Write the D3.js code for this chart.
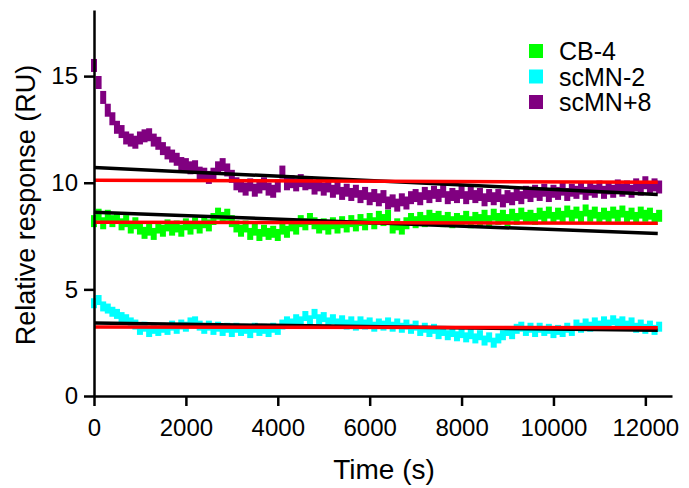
<!DOCTYPE html>
<html>
<head>
<meta charset="utf-8">
<script src="https://cdn.jsdelivr.net/npm/d3@7"></script>
<style>
    body { margin: 0; background: #fff; }
    text { font-family: "Liberation Sans", Arial, sans-serif; fill: #000; }
</style>
</head>
<body>
<svg width="689" height="488"></svg>
<script>
// Sampling of the traces: one reading every 100 s, starting at 0 s
const timeStart = 0;
const timeStep = 100;

// Relative response (RU), every 100 s from 0 to 12300 s
const cb4Values = [
    8.2, 8.5, 8.1, 8.45, 8.2, 8.35, 8.05, 8.2, 7.9, 8.1,
    7.85, 7.65, 7.8, 7.6, 7.9, 7.75, 8.0, 7.8, 7.95, 7.75,
    8.05, 7.85, 8.1, 7.9, 8.15, 8.0, 8.3, 8.55, 8.35, 8.5,
    8.2, 7.95, 7.75, 7.95, 7.6, 7.8, 7.55, 7.75, 7.6, 7.7,
    7.55, 7.85, 7.7, 8.0, 7.85, 8.2, 8.05, 8.3, 8.1, 7.9,
    8.05, 7.85, 8.1, 7.9, 8.15, 7.95, 8.2, 8.0, 8.25, 8.05,
    8.3, 8.1, 8.4, 8.25, 8.45, 7.9, 8.05, 7.85, 8.1, 8.3,
    8.15, 8.35, 8.2, 8.45, 8.3, 8.4, 8.2, 8.35, 8.15, 8.3,
    8.2, 8.4, 8.15, 8.35, 8.25, 8.45, 8.2, 8.5, 8.3, 8.45,
    8.25, 8.5, 8.3, 8.55, 8.35, 8.45, 8.3, 8.55, 8.4, 8.6,
    8.35, 8.55, 8.4, 8.65, 8.45, 8.6, 8.4, 8.7, 8.45, 8.6,
    8.35, 8.55, 8.4, 8.6, 8.45, 8.65, 8.4, 8.55, 8.35, 8.6,
    8.45, 8.55, 8.3, 8.45
];
const scmnMinus2Values = [
    4.35, 4.5, 4.2, 4.1, 3.95, 3.85, 3.7, 3.6, 3.45, 3.35,
    3.1, 3.25, 3.0, 3.15, 3.05, 3.2, 3.1, 3.3, 3.15, 3.35,
    3.25, 3.45, 3.5, 3.3, 3.15, 3.3, 3.1, 3.25, 3.05, 3.2,
    3.0, 3.2, 3.05, 3.15, 2.95, 3.2, 3.05, 3.15, 3.0, 3.2,
    3.1, 3.35, 3.5, 3.4, 3.6, 3.5, 3.75, 3.55, 3.85, 3.6,
    3.7, 3.45, 3.6, 3.4, 3.55, 3.35, 3.5, 3.3, 3.5, 3.35,
    3.45, 3.25, 3.4, 3.3, 3.45, 3.25, 3.4, 3.2, 3.35, 3.15,
    3.3, 3.05, 3.2, 3.0, 3.15, 2.9, 3.05, 2.85, 3.0, 2.8,
    2.95, 2.75, 2.9, 2.7, 2.85, 2.6, 2.75, 2.5, 2.7, 2.85,
    3.05, 2.9, 3.15, 3.25, 3.05, 3.2, 3.0, 3.2, 3.05, 3.15,
    2.95, 3.1, 3.0, 3.2, 3.05, 3.35, 3.2, 3.4, 3.25, 3.45,
    3.3, 3.5, 3.35, 3.55, 3.4, 3.5, 3.3, 3.45, 3.2, 3.35,
    3.15, 3.3, 3.1, 3.25
];
const scmnPlus8Values = [
    15.5, 14.7, 14.0, 13.4, 13.0, 12.6, 12.4, 12.1, 12.0, 11.9,
    12.1, 12.2, 12.25, 12.0, 11.85, 11.6, 11.4, 11.25, 11.1, 10.9,
    10.85, 10.7, 10.75, 10.45, 10.4, 10.25, 10.4, 10.7, 10.85, 10.6,
    10.3, 9.95, 9.85, 9.7, 9.9, 9.65, 9.8, 9.95, 9.7, 9.6,
    9.85, 10.5, 9.95, 10.05, 9.9, 10.1, 9.95, 10.0, 9.75, 9.9,
    9.7, 9.85, 9.6, 9.75, 9.5, 9.65, 9.45, 9.6, 9.35, 9.5,
    9.25, 9.4, 9.2, 9.35, 9.05, 9.15, 8.95, 9.2, 9.05, 9.3,
    9.4, 9.25, 9.5, 9.35, 9.55, 9.4, 9.6, 9.3, 9.45, 9.35,
    9.55, 9.3, 9.5, 9.35, 9.45, 9.2, 9.4, 9.25, 9.4, 9.15,
    9.35, 9.25, 9.45, 9.3, 9.55, 9.4, 9.6, 9.45, 9.65, 9.4,
    9.6, 9.5, 9.7, 9.45, 9.65, 9.55, 9.75, 9.5, 9.7, 9.6,
    9.8, 9.55, 9.75, 9.6, 9.85, 9.65, 9.8, 9.6, 9.9, 9.7,
    10.0, 9.75, 9.9, 9.8
];

// Fitted lines: values at the first and last fit time
const fitTimes = [0, 12270];
const cb4Linear = [8.62, 7.62];
const cb4Flat = [8.15, 8.1];
const scmnMinus2Linear = [3.42, 3.08];
const scmnMinus2Flat = [3.24, 3.2];
const scmnPlus8Linear = [10.72, 9.45];
const scmnPlus8Flat = [10.12, 10.02];

// Axis ticks and legend
const xTicks = [0, 2000, 4000, 6000, 8000, 10000, 12000];
const yTicks = [0, 5, 10, 15];
const seriesNames = ["CB-4", "scMN-2", "scMN+8"];
const seriesColors = ["#00ff00", "#00ffff", "#800080"];

const box = d3.select("svg");

const x = d3.scaleLinear().domain([0, 12580]).range([94, 672]);
const y = d3.scaleLinear().domain([0, 18.1]).range([396, 10]);

// Draw the three traces as small square markers (dense, so they form a band)
const traces = [scmnPlus8Values, cb4Values, scmnMinus2Values];
const traceColors = [seriesColors[2], seriesColors[0], seriesColors[1]];
const markerHeights = [13, 12, 10];
traces.forEach((values, k) => {
    box.append("g")
        .selectAll("rect")
        .data(values)
        .join("rect")
        .attr("x", (d, i) => x(timeStart + i * timeStep) - 3)
        .attr("y", d => y(d) - markerHeights[k] / 2)
        .attr("width", 6)
        .attr("height", markerHeights[k])
        .attr("fill", traceColors[k]);
});

// Fit lines: black linear fits first, red flat fits on top
const fitLine = d3.line()
    .x((d, i) => x(fitTimes[i]))
    .y(d => y(d));
[scmnPlus8Linear, cb4Linear, scmnMinus2Linear].forEach(fit => {
    box.append("path")
        .attr("d", fitLine(fit))
        .attr("fill", "none")
        .attr("stroke", "#000")
        .attr("stroke-width", 3.5);
});
[scmnPlus8Flat, cb4Flat, scmnMinus2Flat].forEach(fit => {
    box.append("path")
        .attr("d", fitLine(fit))
        .attr("fill", "none")
        .attr("stroke", "#ff0000")
        .attr("stroke-width", 3.5);
});

// X axis
const xAxis = box.append("g")
    .attr("transform", "translate(0,396)")
    .call(d3.axisBottom(x).tickValues(xTicks).tickSize(10).tickSizeOuter(0).tickPadding(13).tickFormat(d3.format("d")));
// Y axis
const yAxis = box.append("g")
    .attr("transform", "translate(94,0)")
    .call(d3.axisLeft(y).tickValues(yTicks).tickSize(10).tickSizeOuter(0).tickPadding(6));

[xAxis, yAxis].forEach(a => {
    a.select(".domain").attr("stroke-width", 2.5);
    a.selectAll(".tick line").attr("stroke-width", 2.5);
    a.selectAll(".tick text")
        .style("font-family", "'Liberation Sans', Arial, sans-serif")
        .style("font-size", "24px");
});

// Axis titles
box.append("text")
    .attr("x", 384)
    .attr("y", 479)
    .attr("text-anchor", "middle")
    .style("font-size", "28px")
    .text("Time (s)");
box.append("text")
    .attr("transform", "translate(35,205) rotate(-90)")
    .attr("text-anchor", "middle")
    .style("font-size", "27px")
    .text("Relative response (RU)");

// Legend
const legend = box.append("g");
seriesNames.forEach((name, i) => {
    const rowY = 51 + i * 25.5;
    legend.append("rect")
        .attr("x", 529)
        .attr("y", rowY - 7)
        .attr("width", 14)
        .attr("height", 14)
        .attr("fill", seriesColors[i]);
    legend.append("text")
        .attr("x", 559)
        .attr("y", rowY + 9)
        .style("font-size", "25px")
        .text(name);
});
</script>
</body>
</html>
